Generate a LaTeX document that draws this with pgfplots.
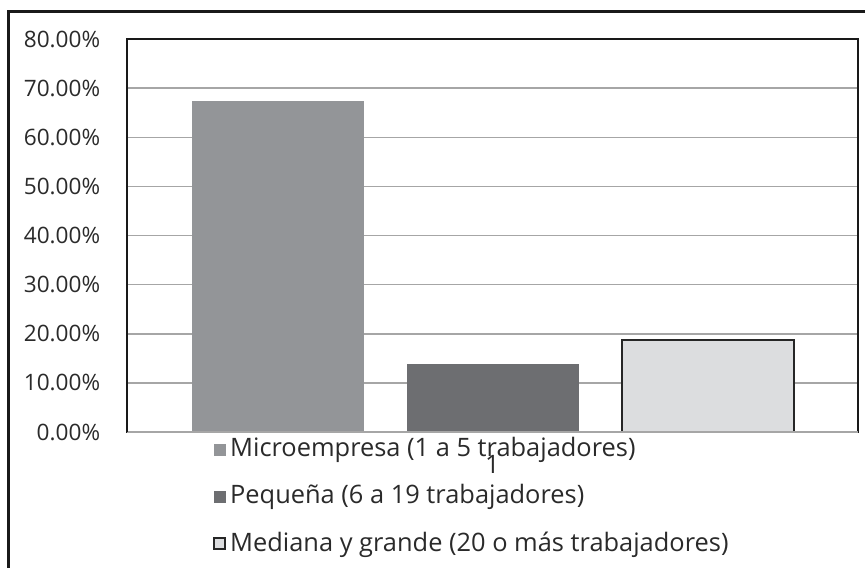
\documentclass[border=0pt]{standalone}
\usepackage{pgfplots}
\pgfplotsset{compat=1.18}
\usepackage{fontspec}
\setmainfont{Open Sans}

\definecolor{micro}{HTML}{939598}
\definecolor{peq}{HTML}{6D6E71}
\definecolor{med}{HTML}{DCDDDF}
\definecolor{txt}{HTML}{2A2A2A}

\begin{document}
\fontsize{12.7}{15}\selectfont
\begin{tikzpicture}
\useasboundingbox (0,0) rectangle (432.5pt,283.5pt);
% outer frame (cut at right and bottom)
\draw[line width=1.5pt,black!90] (4pt,-2pt) -- (4pt,277.5pt) -- (440pt,277.5pt);
\begin{axis}[at={(63.5pt,67.5pt)},anchor=south west,scale only axis,
 width=365.5pt,height=196.5pt,
 xmin=-0.7,xmax=2.7,ymin=0,ymax=80,
 xtick={1},xticklabels={1},
 ytick={0,10,...,80},
 yticklabel={\pgfmathprintnumber[fixed,fixed zerofill,precision=2]{\tick}\%},
 /pgf/number format/assume math mode=true,
 tick style={draw=none},
 yticklabel style={font=\fontsize{11.3}{14}\selectfont,color=txt,xshift=-9pt},
 xticklabel style={font=\fontsize{12.7}{15}\selectfont,color=txt,yshift=-7pt},
 ymajorgrids,grid style={line width=0.75pt,color=black!35},
 axis line style={line width=1pt,black!90},
 legend style={at={(0.1176,0)},anchor=north west,draw=none,fill=none,
   yshift=1.5pt,row sep=8pt,font=\fontsize{12.7}{15}\selectfont,text=txt,
   inner xsep=0pt},
 legend cell align=left,
]
\addplot[ybar,bar width=86pt,bar shift=0pt,fill=micro,draw=none,forget plot] coordinates {(0,67.3)};
\addplot[ybar,bar width=86pt,bar shift=0pt,fill=peq,draw=none,forget plot] coordinates {(1,13.9)};
\addplot[ybar,bar width=86pt,bar shift=0pt,fill=med,draw=black!85,line width=1pt,forget plot] coordinates {(2,18.8)};
\draw[line width=1pt,black!35] (rel axis cs:0,0) -- (rel axis cs:1,0);
\draw[line width=1pt,black!90] (rel axis cs:0,0) -- (rel axis cs:0,1);
\addlegendimage{legend image code/.code={\fill[micro] (0pt,-3pt) rectangle (5.5pt,2.5pt);}}
\addlegendentry{Microempresa (1 a 5 trabajadores)}
\addlegendimage{legend image code/.code={\fill[peq] (0pt,-3pt) rectangle (5.5pt,2.5pt);}}
\addlegendentry{Pequeña (6 a 19 trabajadores)}
\addlegendimage{legend image code/.code={\draw[fill=med,draw=black!85,line width=0.9pt] (0pt,-3pt) rectangle (5.5pt,2.5pt);}}
\addlegendentry{Mediana y grande (20 o más trabajadores)}
\end{axis}
\end{tikzpicture}
\end{document}
